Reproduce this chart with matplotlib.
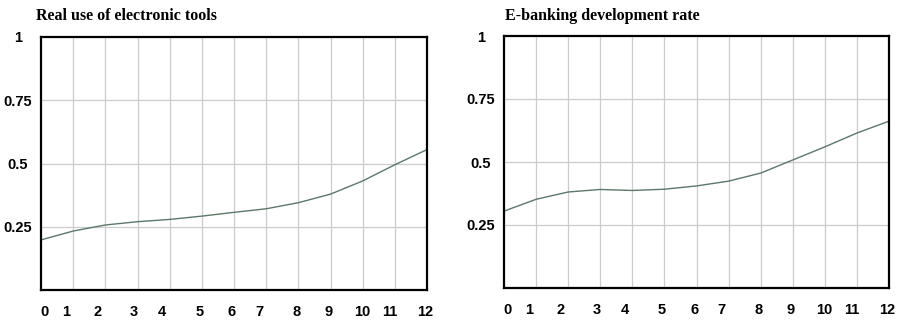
import matplotlib
matplotlib.use('Agg')
import matplotlib.pyplot as plt

# data
months = list(range(13))
tick_labels = [str(m) for m in months]
real_use = [0.198, 0.233, 0.257, 0.270, 0.279, 0.292, 0.307, 0.321, 0.345, 0.379, 0.431, 0.495, 0.555]
ebanking = [0.305, 0.352, 0.381, 0.391, 0.387, 0.392, 0.405, 0.424, 0.456, 0.508, 0.560, 0.615, 0.662]
titles = ['Real use of electronic tools', 'E-banking development rate']

# the x labels in the original sit a bit off the grid lines
label_pos = [0.1, 0.78, 1.75, 2.88, 3.77, 4.92, 5.93, 6.79, 7.94, 8.94, 9.98, 10.84, 11.93]

fig = plt.figure(figsize=(9, 3.21), dpi=100)
boxes = [[41/900, 31/321, 386/900, 253/321],
         [504/900, 33/321, 385/900, 252/321]]
title_x = [36/900, 505/900]
series = [real_use, ebanking]

for box, tx, ys, title in zip(boxes, title_x, series, titles):
    ax = fig.add_axes(box)
    ax.set_xlim(0, 12)
    ax.set_ylim(0, 1)
    for xv in months[1:-1]:
        ax.axvline(xv, color='#cccccc', lw=0.9, zorder=0)
    for yv in [0.25, 0.5, 0.75]:
        ax.axhline(yv, color='#cccccc', lw=0.9, zorder=0)
    ax.plot(months, ys, color='#5b7868', lw=1.0)
    for s in ax.spines.values():
        s.set_linewidth(1.6)
        s.set_color('black')
    ax.set_xticks(label_pos)
    ax.set_xticklabels(tick_labels, fontfamily='Liberation Sans', fontweight='bold', fontsize=10.5)
    ax.set_yticks([0.25, 0.5, 0.75, 1])
    ax.set_yticklabels(['0.25', '0.5', '0.75', '1'], fontfamily='Liberation Sans',
                       fontweight='bold', fontsize=10.5, ha='center')
    ax.tick_params(axis='x', length=0, pad=11)
    ax.tick_params(axis='y', length=0, pad=16.5)
    fig.text(tx, 0.975, title, fontfamily='Liberation Serif', fontweight='bold',
             fontsize=11.5, va='top', ha='left')

fig.savefig('out.png', dpi=100)
